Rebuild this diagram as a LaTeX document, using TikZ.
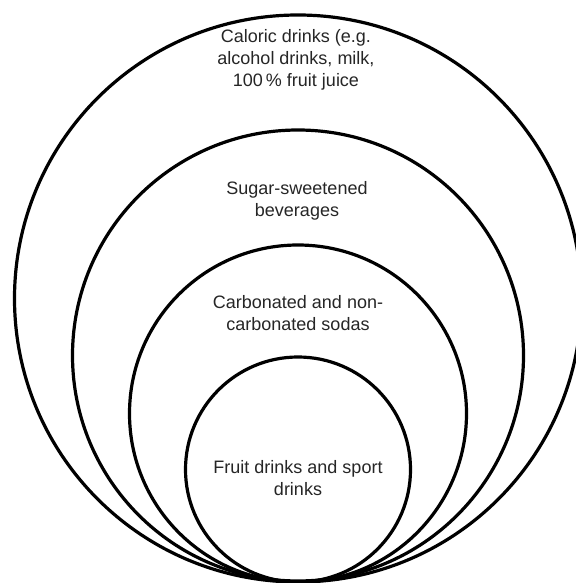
\documentclass[tikz,border=0pt]{standalone}
\usepackage{fontspec}
\setmainfont{Liberation Sans}

\begin{document}
\begin{tikzpicture}[x=1pt,y=-1pt]
\tikzset{ring/.style = {shape=circle,draw,line width=3.2pt,inner sep=0pt}}
\tikzset{tag/.style = {align=center,font=\fontsize{18}{22}\selectfont,text=black!85}}
\useasboundingbox[fill=white] (0,0) rectangle (575,583);
\node[ring,minimum size=567pt](caloric) at (298,298.5) {};
\node[ring,minimum size=451pt](sugar) at (298,355.5) {};
\node[ring,minimum size=337pt](soda) at (298,413.5) {};
\node[ring,minimum size=225pt](fruit) at (298,469.5) {};
\node[tag](caloric text) at (296,60) {Caloric drinks (e.g.\\alcohol drinks, milk,\\100\,\% fruit juice};
\node[tag](sugar text) at (297,201) {Sugar-sweetened\\beverages};
\node[tag](soda text) at (298,313) {Carbonated and non-\\carbonated sodas};
\node[tag](fruit text) at (298,478) {Fruit drinks and sport\\drinks};
\end{tikzpicture}
\end{document}
